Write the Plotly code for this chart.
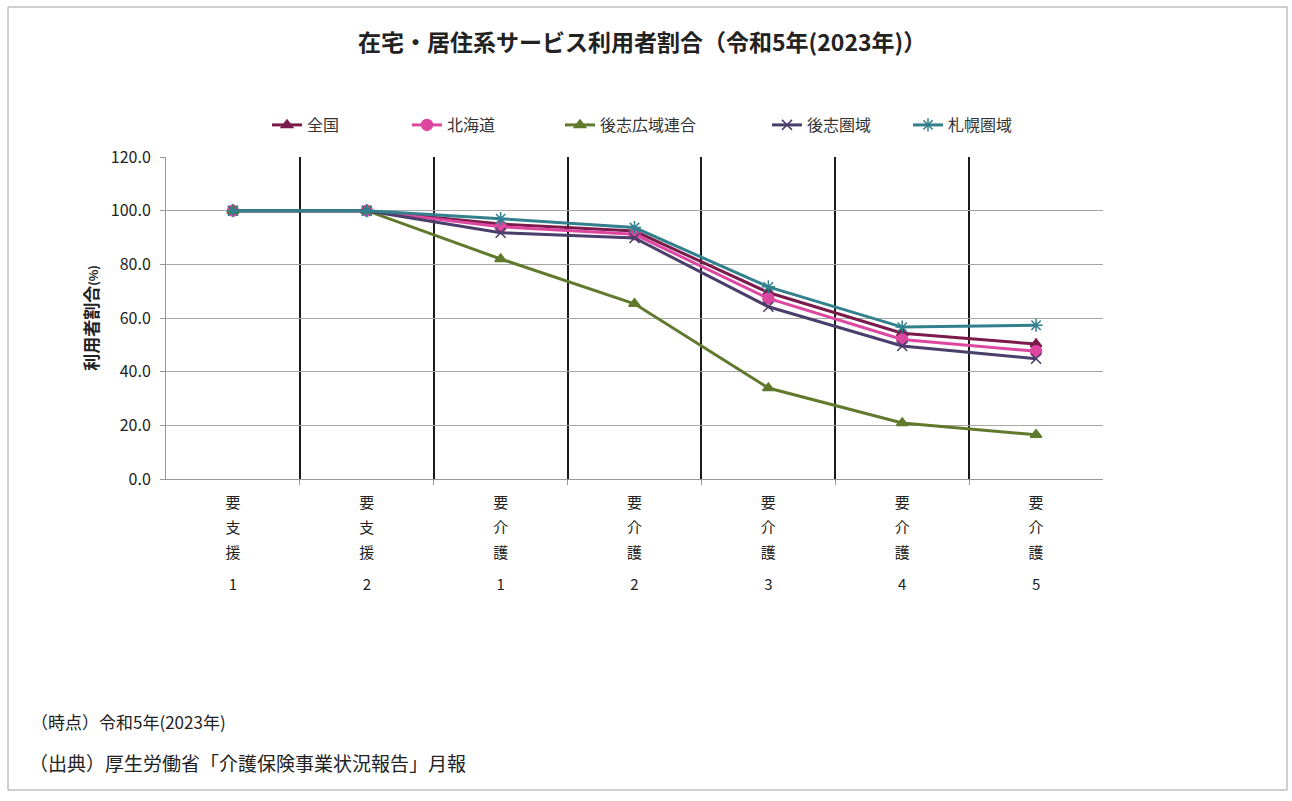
import plotly.graph_objects as go

# ---- data ----
categories = ["要支援1", "要支援2", "要介護1", "要介護2", "要介護3", "要介護4", "要介護5"]
row1 = ["要", "要", "要", "要", "要", "要", "要"]
row2 = ["支", "支", "介", "介", "介", "介", "介"]
row3 = ["援", "援", "護", "護", "護", "護", "護"]
row4 = ["1", "2", "1", "2", "3", "4", "5"]

zenkoku = [100.0, 100.0, 95.0, 92.4, 69.5, 54.3, 50.3]
hokkaido = [100.0, 100.0, 94.0, 91.2, 67.3, 52.0, 47.6]
shiribeshi_kouiki = [100.0, 100.0, 82.0, 65.3, 33.9, 20.9, 16.5]
shiribeshi_ken = [100.0, 100.0, 91.8, 89.8, 64.2, 49.6, 44.8]
sapporo_ken = [100.0, 100.0, 97.0, 93.7, 71.6, 56.6, 57.3]

yticks = [0, 20, 40, 60, 80, 100, 120]

FONT = "Noto Sans CJK JP"
W, H = 1292, 801
L, R, T, B = 166, 1103, 157, 479

idx = list(range(len(categories)))
bounds = [i + 0.5 for i in idx[:-1]]

series = [
    ("全国", zenkoku, "#7A1B4C", "triangle-up", 10),
    ("北海道", hokkaido, "#DE47A0", "circle", 11),
    ("後志広域連合", shiribeshi_kouiki, "#5F7A2C", "triangle-up", 10),
    ("後志圏域", shiribeshi_ken, "#4A3E6A", "x-thin-open", 10),
    ("札幌圏域", sapporo_ken, "#33808D", "asterisk-open", 11),
]

legend_marker_px = [287, 427, 580, 787, 928]

fig = go.Figure()
for k, (name, vals, col, sym, sz) in enumerate(series):
    lg = "legend" if k == 0 else f"legend{k+1}"
    fig.add_trace(go.Scatter(
        x=idx, y=vals, name=name, mode="lines+markers",
        line=dict(color=col, width=3),
        marker=dict(symbol=sym, size=sz, color=col, line=dict(color=col, width=1.5)),
        legend=lg,
    ))

# empty helper traces so the overlaid label axes get drawn
for ax in ["x2", "x3", "x4", "x5"]:
    fig.add_trace(go.Scatter(x=[], y=[], xaxis=ax, yaxis="y", showlegend=False,
                             hoverinfo="skip", mode="lines"))

pw = R - L
ph = B - T
def px_x(p):
    return (p - L) / pw
def px_y(p):
    return (B - p) / ph

layout_legends = {}
for k, mx in enumerate(legend_marker_px):
    key = "legend" if k == 0 else f"legend{k+1}"
    layout_legends[key] = dict(
        x=px_x(mx - 20), y=px_y(125), xanchor="left", yanchor="middle",
        orientation="h", bgcolor="rgba(0,0,0,0)",
        font=dict(family=FONT, size=16, color="#333333"),
    )

rng = [-0.5, len(categories) - 0.5]
xcommon = dict(range=rng, type="linear", fixedrange=True)
lblfont = dict(family=FONT, size=15, color="#222222")

def label_axis(text, standoff):
    return dict(**xcommon, overlaying="x", anchor="y", side="bottom",
                tickmode="array", tickvals=idx, ticktext=text, showgrid=False,
                ticks="", showline=False, zeroline=False, ticklabelstandoff=standoff,
                tickfont=lblfont)

fig.update_layout(
    width=W, height=H,
    margin=dict(l=L, r=W - R, t=T, b=H - B, pad=0),
    paper_bgcolor="white", plot_bgcolor="white",
    font=dict(family=FONT, color="#222222"),
    title=dict(text="<b>在宅・居住系サービス利用者割合（令和5年(2023年)）</b>",
               x=0.497, xref="container", y=1 - 43 / H, yref="container",
               xanchor="center", yanchor="middle",
               font=dict(family=FONT, size=23, color="#222222")),
    xaxis=dict(**xcommon, tickmode="array", tickvals=bounds, showticklabels=False,
               showgrid=True, gridcolor="#1a1a1a", gridwidth=2,
               ticks="outside", ticklen=5, tickcolor="#999999",
               showline=True, linecolor="#999999", linewidth=1, zeroline=False),
    xaxis2=label_axis(row1, 13),
    xaxis3=label_axis(row2, 38),
    xaxis4=label_axis(row3, 63),
    xaxis5=label_axis(row4, 95),
    yaxis=dict(range=[0, 120], tickmode="array", tickvals=yticks,
               tickformat=".1f", showgrid=True, gridcolor="#A6A6A6", gridwidth=1,
               ticks="outside", ticklen=5, tickcolor="#999999",
               showline=True, linecolor="#999999", linewidth=1, zeroline=False,
               ticklabelstandoff=6,
               tickfont=dict(family=FONT, size=16, color="#222222"),
               title=dict(text="<b>利用者割合<span style='font-size:12px'>(%)</span></b>",
                          standoff=7, font=dict(family=FONT, size=17, color="#222222")),
               fixedrange=True),
    **layout_legends,
    showlegend=True,
)

# frame around the whole picture
fig.add_shape(type="rect", xref="paper", yref="paper",
              x0=px_x(8), x1=px_x(1287), y0=px_y(790), y1=px_y(7),
              line=dict(color="#A0A0A0", width=1), fillcolor="rgba(0,0,0,0)", layer="below")

fig.add_annotation(text="（時点）令和5年(2023年)", xref="paper", yref="paper",
                   x=px_x(29), y=px_y(721), xanchor="left", yanchor="middle", showarrow=False,
                   font=dict(family=FONT, size=17, color="#222222"))
fig.add_annotation(text="（出典）厚生労働省「介護保険事業状況報告」月報", xref="paper", yref="paper",
                   x=px_x(27), y=px_y(762), xanchor="left", yanchor="middle", showarrow=False,
                   font=dict(family=FONT, size=19, color="#222222"))

fig.write_html("out.html")
